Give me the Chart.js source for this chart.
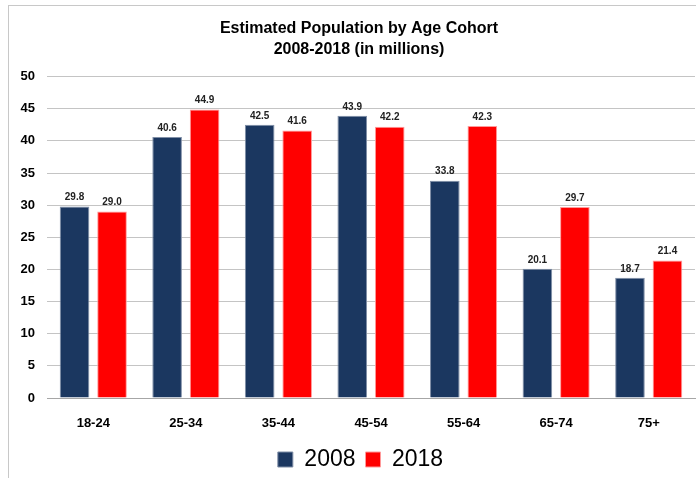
<!DOCTYPE html>
<html>
<head>
<meta charset="utf-8">
<script src="https://cdn.jsdelivr.net/npm/chart.js@4.4.1/dist/chart.umd.min.js"></script>
<style>
  html, body { margin: 0; padding: 0; background: #fff; overflow: hidden; width: 696px; height: 478px; }
  #wrap { position: absolute; left: 0; top: 0; width: 718px; height: 478px; }
  #frame { position: absolute; left: 8px; top: 5px; width: 800px; height: 600px; border: 1px solid #c8c8c8; pointer-events: none; }
</style>
</head>
<body>
<div id="wrap"><canvas id="c" width="718" height="478"></canvas></div>
<div id="frame"></div>
<script>
const categories = ["18-24", "25-34", "35-44", "45-54", "55-64", "65-74", "75+"];
const values2008 = [29.8, 40.6, 42.5, 43.9, 33.8, 20.1, 18.7];
const values2018 = [29.0, 44.9, 41.6, 42.2, 42.3, 29.7, 21.4];
const seriesLabels = ["2008", "2018"];
const titleLines = ["Estimated Population by Age Cohort", "2008-2018 (in millions)"];

const FONT = "'Liberation Sans', Arial, sans-serif";

const valueLabels = {
  id: 'valueLabels',
  afterDatasetsDraw(chart) {
    const ctx = chart.ctx;
    ctx.save();
    ctx.font = "bold 10px " + FONT;
    ctx.fillStyle = "#222";
    ctx.textAlign = "center";
    ctx.textBaseline = "bottom";
    chart.data.datasets.forEach((ds, i) => {
      const meta = chart.getDatasetMeta(i);
      meta.data.forEach((el, j) => {
        ctx.fillText(ds.data[j].toFixed(1), el.x, el.y - 4);
      });
    });
    ctx.restore();
  }
};

// centre title and legend over the same span as the original (frame starts further left)
const shiftBlocks = {
  id: 'shiftBlocks',
  afterLayout(chart) {
    if (chart.titleBlock) chart.titleBlock.left += 23;
    if (chart.legend) chart.legend.left += 26;
  }
};

new Chart(document.getElementById('c'), {
  type: 'bar',
  data: {
    labels: categories,
    datasets: [
      { label: seriesLabels[0], data: values2008, backgroundColor: '#1b3760', borderColor: '#7f8ea6', borderWidth: 1, categoryPercentage: 0.81, barPercentage: 0.79 },
      { label: seriesLabels[1], data: values2018, backgroundColor: '#ff0000', borderColor: '#ff9a9a', borderWidth: 1, categoryPercentage: 0.81, barPercentage: 0.79 }
    ]
  },
  options: {
    responsive: false,
    animation: false,
    devicePixelRatio: 1,
    layout: { padding: { left: 0, right: 23, top: 0, bottom: -3 } },
    plugins: {
      title: {
        display: true,
        text: titleLines,
        color: '#000',
        font: { family: FONT, size: 16, weight: 'bold', lineHeight: 1.3 },
        padding: { top: 18, bottom: 17 }
      },
      legend: {
        position: 'bottom',
        labels: {
          color: '#000',
          font: { family: FONT, size: 23 },
          boxWidth: 15,
          boxHeight: 15,
          padding: 10
        }
      },
      tooltip: { enabled: false }
    },
    scales: {
      y: {
        min: 0, max: 50,
        ticks: { stepSize: 5, color: '#000', font: { family: FONT, size: 13, weight: 'bold' }, padding: 12 },
        grid: { color: '#c4c4c4', drawTicks: false, lineWidth: 1 },
        border: { display: false },
        afterFit(s) { s.width = 47; }
      },
      x: {
        ticks: { color: '#000', font: { family: FONT, size: 13, weight: 'bold' }, padding: 18 },
        grid: { display: false, drawTicks: false },
        border: { display: true, color: '#a6a6a6' },
        afterFit(s) { s.height = 40; }
      }
    }
  },
  plugins: [valueLabels, shiftBlocks]
});
</script>
</body>
</html>
